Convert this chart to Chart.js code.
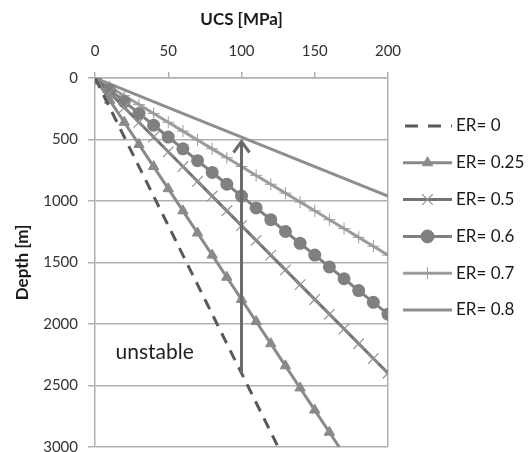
<!DOCTYPE html>
<html>
<head>
<meta charset="utf-8">
<script src="https://cdn.jsdelivr.net/npm/chart.js@4.4.0/dist/chart.umd.min.js"></script>
<style>
  body { margin: 0; background: #fff; }
  #wrap { width: 529px; height: 452px; }
</style>
</head>
<body>
<div id="wrap"><canvas id="myChart" width="529" height="452"></canvas></div>
<script>
// UCS [MPa] values along each curve
var ucs = [0, 10, 20, 30, 40, 50, 60, 70, 80, 90, 100, 110, 120, 130, 140, 150, 160, 170, 180, 190, 200];
var ucsEr0 = [0, 10, 20, 30, 40, 50, 60, 70, 80, 90, 100, 110, 120, 125];
var ucsEr025 = [0, 10, 20, 30, 40, 50, 60, 70, 80, 90, 100, 110, 120, 130, 140, 150, 160, 166.7];
var ucsEr08 = [0, 50, 100, 150, 200];

// depth [m]
var depthEr0 = [0, 240, 480, 720, 960, 1200, 1440, 1680, 1920, 2160, 2400, 2640, 2880, 3000];
var depthEr025 = [0, 180, 360, 540, 720, 900, 1080, 1260, 1440, 1620, 1800, 1980, 2160, 2340, 2520, 2700, 2880, 3000];
var depthEr05 = [0, 120, 240, 360, 480, 600, 720, 840, 960, 1080, 1200, 1320, 1440, 1560, 1680, 1800, 1920, 2040, 2160, 2280, 2400];
var depthEr06 = [0, 96, 192, 288, 384, 480, 576, 672, 768, 864, 960, 1056, 1152, 1248, 1344, 1440, 1536, 1632, 1728, 1824, 1920];
var depthEr07 = [0, 72, 144, 216, 288, 360, 432, 504, 576, 648, 720, 792, 864, 936, 1008, 1080, 1152, 1224, 1296, 1368, 1440];
var depthEr08 = [0, 240, 480, 720, 960];

var labels = ['ER= 0', 'ER= 0.25', 'ER= 0.5', 'ER= 0.6', 'ER= 0.7', 'ER= 0.8'];

// arrow: from depth 2400 up to 500 at UCS 100
var arrowUcs = 100;
var arrowFrom = 2400;
var arrowTo = 500;
var noteText = 'unstable';
var notePos = [14, 2230];

var FONT = 'Lato';

function pts(xs, ys) {
	var out = [];
	for (var i = 0; i < xs.length; i++) out.push({x: xs[i], y: ys[i]});
	return out;
}

var datasets = [
	{
		label: labels[0], data: pts(ucsEr0, depthEr0),
		borderColor: '#595959', borderWidth: 3, borderDash: [11, 8],
		pointRadius: 0
	},
	{
		label: labels[1], data: pts(ucsEr025, depthEr025),
		borderColor: '#8a8a8a', backgroundColor: '#8a8a8a', borderWidth: 3,
		pointStyle: 'triangle', pointRadius: depthEr025.map(function(d, i){ return i == depthEr025.length - 1 ? 0 : 6; }),
		pointBorderWidth: 1
	},
	{
		label: labels[2], data: pts(ucs, depthEr05),
		borderColor: '#737373', backgroundColor: '#737373', borderWidth: 3,
		pointStyle: 'crossRot', pointRadius: 7.5, pointBorderWidth: 1.2,
		pointBorderColor: '#959595'
	},
	{
		label: labels[3], data: pts(ucs, depthEr06),
		borderColor: '#808080', backgroundColor: '#808080', borderWidth: 3,
		pointStyle: 'circle', pointRadius: 6.5, pointBorderWidth: 0
	},
	{
		label: labels[4], data: pts(ucs, depthEr07),
		borderColor: '#9c9c9c', backgroundColor: '#9c9c9c', borderWidth: 3,
		pointStyle: 'cross', pointRadius: 6, pointBorderWidth: 1
	},
	{
		label: labels[5], data: pts(ucsEr08, depthEr08),
		borderColor: '#8e8e8e', borderWidth: 3, pointRadius: 0
	}
];

var extras = {
	id: 'extras',
	afterDatasetsDraw: function(chart) {
		var c = chart.ctx;
		var xs = chart.scales.x, ys = chart.scales.y;
		// arrow
		var ax = xs.getPixelForValue(arrowUcs);
		var y0 = ys.getPixelForValue(arrowFrom);
		var y1 = ys.getPixelForValue(arrowTo);
		c.save();
		c.strokeStyle = '#6b6b6b';
		c.lineWidth = 3;
		c.beginPath();
		c.moveTo(ax, y0);
		c.lineTo(ax, y1 + 3);
		c.stroke();
		c.lineJoin = 'miter';
		c.beginPath();
		c.moveTo(ax - 8, y1 + 13);
		c.lineTo(ax, y1 + 2);
		c.lineTo(ax + 8, y1 + 13);
		c.stroke();
		// note
		c.fillStyle = '#222';
		c.font = '21px ' + FONT;
		c.textAlign = 'left';
		c.textBaseline = 'middle';
		c.fillText(noteText, xs.getPixelForValue(notePos[0]), ys.getPixelForValue(notePos[1]));
		c.restore();

		// legend
		var lx0 = 403, lx1 = 452, ly = 126, step = 36.8;
		chart.data.datasets.forEach(function(ds, i) {
			var y = ly + i * step;
			c.save();
			c.strokeStyle = ds.borderColor;
			c.lineWidth = ds.borderWidth;
			c.beginPath();
			if (ds.borderDash) {
				c.setLineDash([13, 10]);
				c.moveTo(lx0 + 2, y); c.lineTo(lx1, y);
			} else {
				c.moveTo(lx0, y); c.lineTo(lx1, y);
			}
			c.stroke();
			c.setLineDash([]);
			var r = Array.isArray(ds.pointRadius) ? ds.pointRadius[0] : ds.pointRadius;
			if (r > 0) {
				c.fillStyle = ds.backgroundColor;
				c.strokeStyle = ds.pointBorderColor || ds.borderColor;
				c.lineWidth = ds.pointBorderWidth || 1;
				Chart.helpers.drawPoint(c, {
					pointStyle: ds.pointStyle, radius: r, borderWidth: ds.pointBorderWidth || 1, rotation: 0
				}, (lx0 + lx1) / 2, y);
			}
			c.fillStyle = '#1a1a1a';
			c.font = '17px ' + FONT;
			c.textAlign = 'left';
			c.textBaseline = 'middle';
			c.fillText(ds.label, 456, y);
			c.restore();
		});
	}
};

var ctx = document.getElementById('myChart');
var chart = new Chart(ctx, {
	type: 'line',
	data: { datasets: datasets },
	options: {
		responsive: false,
		animation: false,
		devicePixelRatio: 1,
		layout: { autoPadding: false, padding: { left: 0, top: 0, right: 141, bottom: 5 } },
		plugins: { legend: { display: false }, tooltip: { enabled: false } },
		elements: { line: { tension: 0 } },
		scales: {
			x: {
				type: 'linear', position: 'top', min: 0, max: 200,
				ticks: { stepSize: 50, color: '#333', font: { family: FONT, size: 15 }, padding: 12, maxRotation: 0 },
				grid: {
					color: function(c) { return c.tick && c.tick.value === 200 ? '#b0b0b0' : 'rgba(0,0,0,0)'; },
					tickColor: '#b0b0b0', tickLength: 6, lineWidth: 1.5
				},
				border: { color: '#b0b0b0', width: 1.5 },
				title: { display: true, text: 'UCS [MPa]', color: '#1a1a1a', font: { family: FONT, size: 17, weight: 'bold' }, padding: { top: 9, bottom: 0 } },
				afterFit: function(s) { s.height = 78; s.paddingLeft = 0; s.paddingRight = 0; }
			},
			y: {
				type: 'linear', reverse: true, min: 0, max: 3000,
				ticks: { stepSize: 500, color: '#333', font: { family: FONT, size: 15 }, padding: 10,
					callback: function(v) { return String(v); } },
				grid: { color: '#b0b0b0', tickColor: '#b0b0b0', tickLength: 7, lineWidth: 1.5 },
				border: { color: '#b0b0b0', width: 1.5 },
				title: { display: true, text: 'Depth [m]', color: '#1a1a1a', font: { family: FONT, size: 17, weight: 'bold' }, padding: { top: 12, bottom: 0 } },
				afterFit: function(s) { s.width = 95; s.paddingTop = 0; s.paddingBottom = 0; }
			}
		}
	},
	plugins: [extras]
});
</script>
</body>
</html>
